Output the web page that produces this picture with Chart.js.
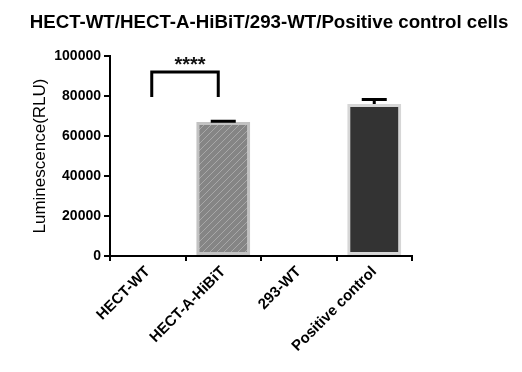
<!DOCTYPE html>
<html>
<head>
<meta charset="utf-8">
<script src="https://cdn.jsdelivr.net/npm/chart.js@4"></script>
<style>
  html, body { margin: 0; padding: 0; background: #fff; }
  #wrap { width: 522px; height: 372px; position: relative; }
</style>
</head>
<body>
<div id="wrap"><canvas id="chart" width="522" height="372"></canvas></div>
<script>
// =======================
// Data
// =======================
const chartTitle = "HECT-WT/HECT-A-HiBiT/293-WT/Positive control cells";
const categories = ["HECT-WT", "HECT-A-HiBiT", "293-WT", "Positive control"];
const meanValues = [0, 67000, 600, 76000];
const errorValues = [0, 400, 0, 2300];
const yTicks = [0, 20000, 40000, 60000, 80000, 100000];

// significance bracket between HECT-WT and HECT-A-HiBiT
const sigPair = [0, 1];
const sigTop = 92000;
const sigLegBottom = 79500;
const sigLabel = "****";

// =======================
// Styles
// =======================
function hatchPattern() {
  const c = document.createElement("canvas");
  c.width = 7; c.height = 7;
  const g = c.getContext("2d");
  g.fillStyle = "#858585";
  g.fillRect(0, 0, 7, 7);
  g.strokeStyle = "#a8a8a8";
  g.lineWidth = 1;
  g.beginPath();
  g.moveTo(-1, 8); g.lineTo(8, -1);
  g.moveTo(-1, 1); g.lineTo(1, -1);
  g.moveTo(6, 8); g.lineTo(8, 6);
  g.stroke();
  return document.getElementById("chart").getContext("2d").createPattern(c, "repeat");
}

const barFill = ["#ffffff", hatchPattern(), "#e6e6e6", "#333333"];
const barBorder = ["#ffffff", "#c2c2c2", "#cfcfcf", "#d6d6d6"];

// =======================
// Plugins
// =======================
const titlePlugin = {
  id: "titleText",
  afterDraw(chart) {
    const ctx = chart.ctx;
    ctx.save();
    ctx.font = "bold 18.7px Arial, 'Liberation Sans'";
    ctx.fillStyle = "#000";
    ctx.textAlign = "center";
    ctx.textBaseline = "middle";
    ctx.fillText(chartTitle, 269, 23);
    ctx.restore();
  }
};

const errorBarPlugin = {
  id: "errorBars",
  afterDatasetsDraw(chart) {
    const ctx = chart.ctx;
    const y = chart.scales.y;
    const meta = chart.getDatasetMeta(0);
    ctx.save();
    ctx.strokeStyle = "#000";
    ctx.lineWidth = 3;
    meanValues.forEach((v, i) => {
      if (!errorValues[i]) return;
      const x = meta.data[i].x;
      const yBar = y.getPixelForValue(v);
      const yTop = y.getPixelForValue(v + errorValues[i]);
      ctx.beginPath();
      ctx.moveTo(x, yBar);
      ctx.lineTo(x, yTop);
      ctx.moveTo(x - 12.5, yTop);
      ctx.lineTo(x + 12.5, yTop);
      ctx.stroke();
    });
    ctx.restore();
  }
};

const sigPlugin = {
  id: "sigBracket",
  afterDatasetsDraw(chart) {
    const ctx = chart.ctx;
    const y = chart.scales.y;
    const xs = chart.scales.x;
    const x1 = xs.getPixelForValue(sigPair[0]) + 4;
    const x2 = xs.getPixelForValue(sigPair[1]) - 5;
    const yt = y.getPixelForValue(sigTop);
    const yb = y.getPixelForValue(sigLegBottom);
    ctx.save();
    ctx.strokeStyle = "#000";
    ctx.lineWidth = 3;
    ctx.lineJoin = "miter";
    ctx.beginPath();
    ctx.moveTo(x1, yb);
    ctx.lineTo(x1, yt);
    ctx.lineTo(x2, yt);
    ctx.lineTo(x2, yb);
    ctx.stroke();
    ctx.font = "bold 20px Arial, 'Liberation Sans'";
    ctx.fillStyle = "#111";
    ctx.textAlign = "center";
    ctx.textBaseline = "alphabetic";
    ctx.fillText(sigLabel, (x1 + x2) / 2 + 5, yt - 1);
    ctx.restore();
  }
};

// =======================
// Chart
// =======================
new Chart(document.getElementById("chart"), {
  type: "bar",
  data: {
    labels: categories,
    datasets: [{
      data: meanValues,
      backgroundColor: barFill,
      borderColor: barBorder,
      borderWidth: 3,
      borderSkipped: false,
      barPercentage: 0.715,
      categoryPercentage: 1
    }]
  },
  options: {
    responsive: false,
    animation: false,
    devicePixelRatio: 1,
    layout: { padding: { top: 56, right: 110, bottom: 0, left: 0 } },
    plugins: {
      legend: { display: false },
      title: { display: false },
      tooltip: { enabled: false }
    },
    scales: {
      x: {
        afterFit: s => { s.height = 116; },
        grid: { drawOnChartArea: false, drawTicks: true, tickLength: 5, color: "#000", lineWidth: 2 },
        border: { display: true, color: "#000", width: 2 },
        ticks: {
          color: "#000",
          font: { family: "Arial, 'Liberation Sans'", size: 15, weight: "bold" },
          minRotation: 45,
          maxRotation: 45,
          padding: 2,
          autoSkip: false
        }
      },
      y: {
        min: 0,
        max: 100000,
        afterFit: s => { s.width = 110; },
        afterBuildTicks: s => { s.ticks = yTicks.map(v => ({ value: v })); },
        grid: { drawOnChartArea: false, drawTicks: true, tickLength: 6, color: "#000", lineWidth: 2 },
        border: { display: true, color: "#000", width: 2 },
        ticks: {
          color: "#000",
          font: { family: "Arial, 'Liberation Sans'", size: 14, weight: "bold" },
          padding: 3,
          callback: v => String(v)
        },
        title: {
          display: true,
          text: "Luminescence(RLU)",
          color: "#000",
          font: { family: "Arial, 'Liberation Sans'", size: 17, weight: "normal" },
          padding: { top: 30, bottom: 0 }
        }
      }
    }
  },
  plugins: [titlePlugin, errorBarPlugin, sigPlugin]
});
</script>
</body>
</html>
